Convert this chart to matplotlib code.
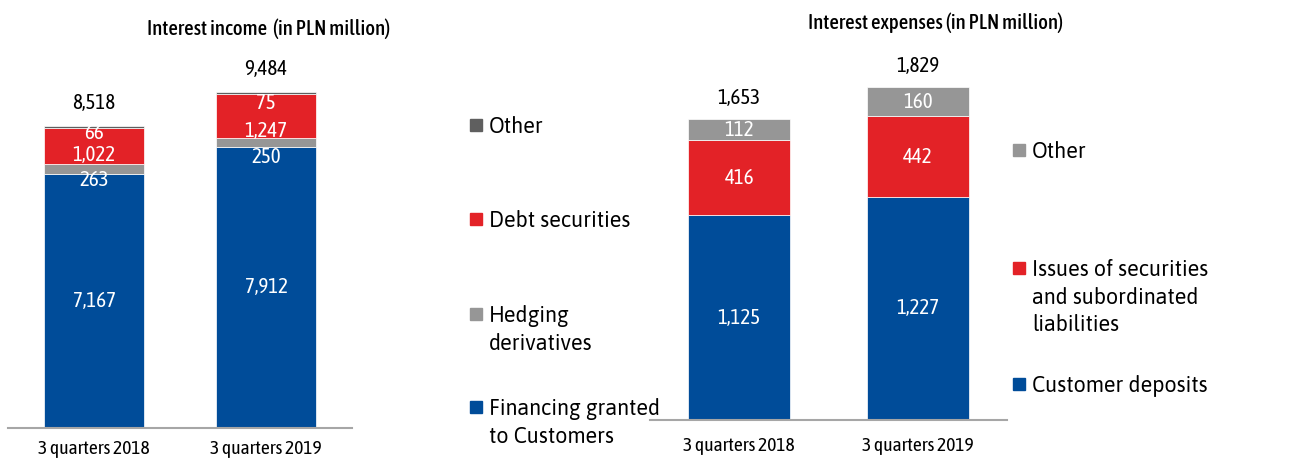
import matplotlib.pyplot as plt
from matplotlib.patches import Rectangle

plt.rcParams["font.family"] = ["Asap Condensed", "Liberation Sans", "DejaVu Sans"]
LEGEND_FONT = ["Asap", "Liberation Sans", "DejaVu Sans"]

periods = ["3 quarters 2018", "3 quarters 2019"]

# interest income, PLN million
income_financing = [7167, 7912]
income_hedging = [263, 250]
income_debt = [1022, 1247]
income_other = [66, 75]
income_total = [8518, 9484]
income_names = ["Financing granted\nto Customers", "Hedging\nderivatives",
                "Debt securities", "Other"]

# interest expenses, PLN million
expense_deposits = [1125, 1227]
expense_issues = [416, 442]
expense_other = [112, 160]
expense_total = [1653, 1829]
expense_names = ["Customer deposits",
                 "Issues of securities\nand subordinated\nliabilities", "Other"]

BLUE = "#004c99"
RED = "#e32227"
GREY = "#969696"
DARK = "#5f5f5f"
AXIS = "#a6a6a6"
FS = 15

W, H = 1312, 459
fig = plt.figure(figsize=(W / 100, H / 100), dpi=100)


def px_box(x0, x1, y_bottom, y_top):
    """Axes rectangle from pixel coords measured from the top-left corner."""
    return [x0 / W, (H - y_bottom) / H, (x1 - x0) / W, (y_bottom - y_top) / H]


def stacked(ax, layers, colors, width, label_drops, totals, total_gap, tick_pad):
    xs = range(len(periods))
    base = [0] * len(periods)
    for vals, color, drops in zip(layers, colors, label_drops):
        ax.bar(xs, vals, width, bottom=base, color=color,
               edgecolor="white", linewidth=0.5)
        for i, v in enumerate(vals):
            ax.annotate(f"{v:,}", (i, base[i] + v / 2),
                        xytext=(0, -drops[i] * 0.72), textcoords="offset points",
                        ha="center", va="center", color="white", fontsize=FS)
        base = [b + v for b, v in zip(base, vals)]
    for i, t in enumerate(totals):
        ax.annotate(f"{t:,}", (i, base[i]), xytext=(0, total_gap * 0.72),
                    textcoords="offset points", ha="center", va="center",
                    color="black", fontsize=FS)
    ax.set_xlim(-0.5, 1.5)
    ax.set_xticks(list(xs), periods, fontsize=14)
    ax.tick_params(axis="x", length=0, pad=tick_pad)
    ax.set_yticks([])
    for side in ("left", "right", "top"):
        ax.spines[side].set_visible(False)
    ax.spines["bottom"].set_color(AXIS)
    ax.spines["bottom"].set_linewidth(1.5)


def legend(entries, x, ys):
    for (name, color), y in zip(entries, ys):
        fig.add_artist(Rectangle((x / W, (H - y - 6) / H), 12 / W, 12 / H,
                                 transform=fig.transFigure, color=color))
        fig.text((x + 19) / W, (H - y + 9) / H, name, ha="left", va="top",
                 fontsize=15.5, linespacing=1.33, family=LEGEND_FONT)


ax1 = fig.add_axes(px_box(8, 352, 427.7, 20))
ax1.set_ylim(0, 11504)
stacked(ax1, [income_financing, income_hedging, income_debt, income_other],
        [BLUE, GREY, RED, DARK], 0.58,
        [[0, 0], [10.7, 13.7], [9, 14.5], [6.5, 10]], income_total, 23, 9)

ax2 = fig.add_axes(px_box(650, 1007, 420, 20))
ax2.set_ylim(0, 2199)
stacked(ax2, [expense_deposits, expense_issues, expense_other],
        [BLUE, RED, GREY], 0.57,
        [[0, 0], [0, 0], [0, 0]], expense_total, 21, 12)

fig.text(269 / W, (H - 29) / H, "Interest income  (in PLN million)",
         ha="center", va="center", fontsize=FS, fontweight=500)
fig.text(936 / W, (H - 23) / H, "Interest expenses (in PLN million)",
         ha="center", va="center", fontsize=FS, fontweight=500)

legend([(income_names[3], DARK), (income_names[2], RED),
        (income_names[1], GREY), (income_names[0], BLUE)],
       470, [125, 219, 314, 407])
legend([(expense_names[2], GREY), (expense_names[1], RED),
        (expense_names[0], BLUE)],
       1013, [150, 268, 384])

fig.savefig("out.png", dpi=100)
